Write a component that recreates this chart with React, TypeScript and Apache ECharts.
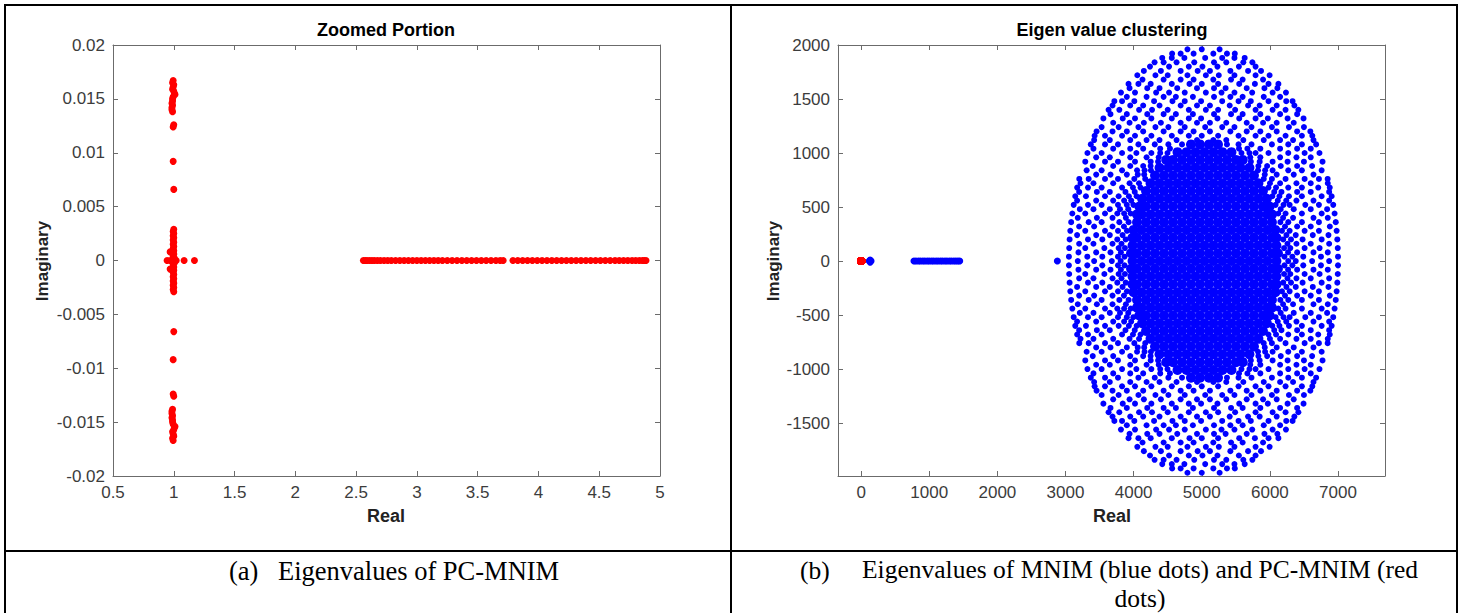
import React, { useEffect, useRef } from "react";
import * as echarts from "echarts";

// ---------- tick labels ----------
const leftXTicks = [0.5, 1, 1.5, 2, 2.5, 3, 3.5, 4, 4.5, 5];
const leftYTicks = [-0.02, -0.015, -0.01, -0.005, 0, 0.005, 0.01, 0.015, 0.02];
const rightXTicks = [0, 1000, 2000, 3000, 4000, 5000, 6000, 7000];
const rightYTicks = [-1500, -1000, -500, 0, 500, 1000, 1500, 2000];

// ---------- PC-MNIM eigenvalues (red) ----------
const pcNearOne: [number, number][] = [
  [0.995, 0.0167], [0.99, 0.0165], [1.0, 0.0163], [0.995, 0.0161], [0.99, 0.0159], [1.0, 0.0157], [1.005, 0.0155], [1.01, 0.0154],
  [0.995, 0.0152], [0.99, 0.015], [0.99, 0.0148], [0.985, 0.0146], [0.99, 0.0144], [0.985, 0.0142], [0.985, 0.014], [0.99, 0.0138],
  [1.0, 0.0126], [0.995, 0.0124], [0.995, 0.0092], [1.0, 0.0066],
  [1.0, 0.0029], [0.995, 0.0027], [1.0, 0.0025], [0.995, 0.0023], [1.0, 0.0021], [0.995, 0.0019], [1.0, 0.0017], [0.995, 0.0015],
  [1.0, 0.0013], [0.995, 0.0011], [1.0, 0.0009], [0.97, 0.0008], [1.0, 0.0006], [0.995, 0.0004], [1.005, 0.0002],
  [0.945, 0], [0.97, 0], [0.99, 0], [1.0, 0], [1.02, 0], [1.085, 0], [1.17, 0],
  [1.005, -0.0002], [0.995, -0.0004], [1.0, -0.0006], [0.97, -0.0008], [1.0, -0.0009], [0.995, -0.0011], [1.0, -0.0013], [0.995, -0.0015],
  [1.0, -0.0017], [0.995, -0.0019], [1.0, -0.0021], [0.995, -0.0023], [1.0, -0.0025], [0.995, -0.0027], [1.0, -0.0029],
  [1.0, -0.0066], [0.995, -0.0092], [0.995, -0.0124], [1.0, -0.0126],
  [0.99, -0.0138], [0.985, -0.014], [0.985, -0.0142], [0.99, -0.0144], [0.985, -0.0146], [0.99, -0.0148], [0.99, -0.015], [0.995, -0.0152],
  [1.01, -0.0154], [1.005, -0.0155], [1.0, -0.0157], [0.99, -0.0159], [0.995, -0.0161], [1.0, -0.0163], [0.99, -0.0165], [0.995, -0.0167],
];
const pcRealLow = [
  2.56, 2.575, 2.59, 2.61, 2.63, 2.65, 2.675, 2.7, 2.73, 2.76, 2.79, 2.825, 2.86, 2.895, 2.93, 2.965, 3.0, 3.035,
  3.07, 3.105, 3.14, 3.175, 3.21, 3.25, 3.29, 3.33, 3.37, 3.41, 3.45, 3.49, 3.53, 3.57, 3.61, 3.65, 3.685, 3.71,
];
const pcRealHigh = [
  3.79, 3.83, 3.87, 3.91, 3.95, 3.99, 4.03, 4.07, 4.11, 4.15, 4.19, 4.23, 4.27, 4.31, 4.35, 4.39, 4.43, 4.47,
  4.51, 4.55, 4.59, 4.63, 4.665, 4.7, 4.735, 4.77, 4.8, 4.83, 4.855, 4.87, 4.885,
];

// ---------- MNIM eigenvalues (blue) ----------
const mnimNearZero: [number, number][] = [[120, 0], [132, 10], [132, -10], [145, 0]];
const mnimRealCluster = [775, 805, 840, 870, 905, 935, 970, 1000, 1035, 1065, 1100, 1130, 1165, 1195, 1230, 1260, 1295, 1325, 1360, 1390, 1420, 1447];
const mnimIsolated: [number, number][] = [[2880, 0]];

// outer annulus, rows of [imag, real parts]
const mnimRingUpper: [number, number[]][] = [
  [1960, [4790, 5000, 5262]],
  [1920, [4565, 4690, 4880, 5170, 5370, 5485]],
  [1880, [4420, 4560, 4745, 5050, 5300, 5480, 5630]],
  [1840, [4307, 4440, 4630, 4890, 5180, 5360, 5610, 5743]],
  [1800, [4240, 4520, 4810, 5010, 5230, 5545, 5790]],
  [1760, [4150, 4400, 4690, 4940, 5120, 5420, 5680, 5870]],
  [1720, [4054, 4320, 4500, 4790, 5060, 5250, 5480, 5790, 5996]],
  [1680, [4130, 4440, 4690, 4880, 5170, 5430, 5600, 5900]],
  [1640, [3925, 4070, 4250, 4560, 4820, 5000, 5240, 5550, 5780, 5980, 6125]],
  [1600, [3940, 4200, 4380, 4640, 4930, 5180, 5350, 5660, 5920, 6110]],
  [1560, [3814, 4020, 4330, 4520, 4750, 5060, 5290, 5480, 5740, 6040, 6236]],
  [1520, [3900, 4190, 4440, 4620, 4870, 5180, 5420, 5600, 5910, 6150]],
  [1480, [3717, 3830, 4010, 4300, 4570, 4750, 4990, 5300, 5540, 5720, 5980, 6240, 6333]],
  [1440, [3690, 3950, 4140, 4380, 4690, 4930, 5120, 5410, 5680, 5850, 6100, 6360]],
  [1400, [3632, 3790, 4080, 4270, 4500, 4810, 5060, 5240, 5490, 5790, 6040, 6230, 6418]],
  [1360, [3660, 3900, 4200, 4440, 4620, 4870, 5180, 5430, 5600, 5860, 6150, 6400]],
  [1320, [3556, 3840, 4020, 4260, 4560, 4810, 4990, 5230, 5550, 5790, 5970, 6260, 6494]],
  [1280, [3700, 3940, 4150, 4400, 4690, 4930, 5120, 5360, 5660, 5900, 6100, 6350]],
  [1240, [3530, 3780, 4070, 4320, 4510, 4750, 5050, 5300, 5480, 5730, 6030, 6280, 6500]],
  [1200, [3456, 3690, 3900, 4140, 4440, 4690, 4880, 5120, 5420, 5660, 5860, 6100, 6400, 6594]],
  [1160, [3427, 3580, 3830, 4020, 4260, 4560, 4810, 5000, 5240, 5540, 5790, 5980, 6230, 6470, 6623]],
  [1120, [3420, 3650, 3950, 4190, 4380, 4630, 4930, 5170, 5360, 5610, 5910, 6150, 6340, 6640]],
  [1080, [3371, 3580, 3770, 4070, 4310, 4510, 4710, 5370, 5540, 5730, 6030, 6270, 6470, 6679]],
  [1040, [3410, 3700, 3950, 4140, 4390, 4533, 5547, 5670, 5860, 6150, 6400, 6600]],
  [1000, [3322, 3530, 3830, 4040, 4260, 4390, 4497, 5583, 5700, 5790, 5980, 6270, 6510, 6728]],
  [960, [3450, 3650, 3950, 4190, 4368, 5712, 5860, 6150, 6390, 6600]],
  [920, [3290, 3580, 3770, 4020, 4250, 4359, 5721, 5850, 6040, 6260, 6500, 6773]],
  [880, [3400, 3700, 3950, 4140, 4249, 5831, 5960, 6160, 6400, 6620]],
  [840, [3310, 3530, 3830, 4050, 4160, 4254, 5826, 5930, 6040, 6270, 6470, 6760]],
  [800, [3450, 3660, 3900, 4060, 4155, 5925, 6100, 6350, 6640]],
  [760, [3202, 3340, 3580, 3770, 4010, 4170, 5910, 6030, 6230, 6510, 6720, 6848]],
  [720, [3220, 3410, 3700, 3940, 4079, 6001, 6150, 6390, 6600, 6850]],
  [680, [3171, 3330, 3530, 3830, 3990, 4101, 5979, 6090, 6270, 6470, 6710, 6879]],
  [640, [3200, 3460, 3650, 3880, 4016, 6064, 6170, 6400, 6600, 6870]],
  [600, [3143, 3300, 3580, 3780, 3930, 4044, 6036, 6140, 6280, 6470, 6760, 6907]],
  [560, [3170, 3450, 3700, 3860, 3964, 6116, 6240, 6390, 6640, 6870]],
  [520, [3120, 3330, 3530, 3770, 3900, 3996, 6084, 6200, 6290, 6520, 6720, 6930]],
  [480, [3210, 3410, 3650, 3800, 3921, 6159, 6350, 6600, 6840]],
  [440, [3100, 3290, 3580, 3760, 3860, 3957, 6123, 6230, 6470, 6760, 6950]],
  [400, [3180, 3460, 3690, 3886, 6194, 6340, 6640, 6850]],
  [360, [3083, 3340, 3530, 3790, 3926, 6154, 6270, 6470, 6720, 6967]],
  [320, [3200, 3420, 3690, 3858, 6222, 6400, 6600, 6880]],
  [280, [3070, 3290, 3580, 3770, 3902, 6178, 6290, 6510, 6720, 6980]],
  [240, [3170, 3450, 3650, 3837, 6243, 6380, 6630, 6860]],
  [200, [3060, 3330, 3540, 3760, 3884, 6196, 6310, 6480, 6760, 6990]],
  [160, [3200, 3410, 3690, 3822, 6258, 6390, 6600, 6870]],
  [120, [3054, 3290, 3570, 3780, 3872, 6208, 6300, 6510, 6730, 6996]],
  [80, [3190, 3450, 3660, 3813, 6267, 6400, 6640, 6850]],
  [40, [3050, 3320, 3540, 3770, 3866, 6214, 6330, 6490, 6750, 7000]],
  [0, [3180, 3420, 3680, 3810, 6270, 6380, 6620, 6870]],
];
const mnimRingLower: [number, number[]][] = [
  [-40, [3050, 3320, 3540, 3770, 3866, 6214, 6330, 6490, 6750, 7000]],
  [-80, [3190, 3450, 3660, 3813, 6267, 6400, 6640, 6850]],
  [-120, [3054, 3290, 3570, 3780, 3872, 6208, 6300, 6510, 6730, 6996]],
  [-160, [3200, 3410, 3690, 3822, 6258, 6390, 6600, 6870]],
  [-200, [3060, 3330, 3540, 3760, 3884, 6196, 6310, 6480, 6760, 6990]],
  [-240, [3170, 3450, 3650, 3837, 6243, 6380, 6630, 6860]],
  [-280, [3070, 3290, 3580, 3770, 3902, 6178, 6290, 6510, 6720, 6980]],
  [-320, [3200, 3420, 3690, 3858, 6222, 6400, 6600, 6880]],
  [-360, [3083, 3340, 3530, 3790, 3926, 6154, 6270, 6470, 6720, 6967]],
  [-400, [3180, 3460, 3690, 3886, 6194, 6340, 6640, 6850]],
  [-440, [3100, 3290, 3580, 3760, 3860, 3957, 6123, 6230, 6470, 6760, 6950]],
  [-480, [3210, 3410, 3650, 3800, 3921, 6159, 6350, 6600, 6840]],
  [-520, [3120, 3330, 3530, 3770, 3900, 3996, 6084, 6200, 6290, 6520, 6720, 6930]],
  [-560, [3170, 3450, 3700, 3860, 3964, 6116, 6240, 6390, 6640, 6870]],
  [-600, [3143, 3300, 3580, 3780, 3930, 4044, 6036, 6140, 6280, 6470, 6760, 6907]],
  [-640, [3200, 3460, 3650, 3880, 4016, 6064, 6170, 6400, 6600, 6870]],
  [-680, [3171, 3330, 3530, 3830, 3990, 4101, 5979, 6090, 6270, 6470, 6710, 6879]],
  [-720, [3220, 3410, 3700, 3940, 4079, 6001, 6150, 6390, 6600, 6850]],
  [-760, [3202, 3340, 3580, 3770, 4010, 4170, 5910, 6030, 6230, 6510, 6720, 6848]],
  [-800, [3450, 3660, 3900, 4060, 4155, 5925, 6100, 6350, 6640]],
  [-840, [3310, 3530, 3830, 4050, 4160, 4254, 5826, 5930, 6040, 6270, 6470, 6760]],
  [-880, [3400, 3700, 3950, 4140, 4249, 5831, 5960, 6160, 6400, 6620]],
  [-920, [3290, 3580, 3770, 4020, 4250, 4359, 5721, 5850, 6040, 6260, 6500, 6773]],
  [-960, [3450, 3650, 3950, 4190, 4368, 5712, 5860, 6150, 6390, 6600]],
  [-1000, [3322, 3530, 3830, 4040, 4260, 4390, 4497, 5583, 5700, 5790, 5980, 6270, 6510, 6728]],
  [-1040, [3410, 3700, 3950, 4140, 4390, 4533, 5547, 5670, 5860, 6150, 6400, 6600]],
  [-1080, [3371, 3580, 3770, 4070, 4310, 4510, 4710, 5370, 5540, 5730, 6030, 6270, 6470, 6679]],
  [-1120, [3420, 3650, 3950, 4190, 4380, 4630, 4930, 5170, 5360, 5610, 5910, 6150, 6340, 6640]],
  [-1160, [3427, 3580, 3830, 4020, 4260, 4560, 4810, 5000, 5240, 5540, 5790, 5980, 6230, 6470, 6623]],
  [-1200, [3456, 3690, 3900, 4140, 4440, 4690, 4880, 5120, 5420, 5660, 5860, 6100, 6400, 6594]],
  [-1240, [3530, 3780, 4070, 4320, 4510, 4750, 5050, 5300, 5480, 5730, 6030, 6280, 6500]],
  [-1280, [3700, 3940, 4150, 4400, 4690, 4930, 5120, 5360, 5660, 5900, 6100, 6350]],
  [-1320, [3556, 3840, 4020, 4260, 4560, 4810, 4990, 5230, 5550, 5790, 5970, 6260, 6494]],
  [-1360, [3660, 3900, 4200, 4440, 4620, 4870, 5180, 5430, 5600, 5860, 6150, 6400]],
  [-1400, [3632, 3790, 4080, 4270, 4500, 4810, 5060, 5240, 5490, 5790, 6040, 6230, 6418]],
  [-1440, [3690, 3950, 4140, 4380, 4690, 4930, 5120, 5410, 5680, 5850, 6100, 6360]],
  [-1480, [3717, 3830, 4010, 4300, 4570, 4750, 4990, 5300, 5540, 5720, 5980, 6240, 6333]],
  [-1520, [3900, 4190, 4440, 4620, 4870, 5180, 5420, 5600, 5910, 6150]],
  [-1560, [3814, 4020, 4330, 4520, 4750, 5060, 5290, 5480, 5740, 6040, 6236]],
  [-1600, [3940, 4200, 4380, 4640, 4930, 5180, 5350, 5660, 5920, 6110]],
  [-1640, [3925, 4070, 4250, 4560, 4820, 5000, 5240, 5550, 5780, 5980, 6125]],
  [-1680, [4130, 4440, 4690, 4880, 5170, 5430, 5600, 5900]],
  [-1720, [4054, 4320, 4500, 4790, 5060, 5250, 5480, 5790, 5996]],
  [-1760, [4150, 4400, 4690, 4940, 5120, 5420, 5680, 5870]],
  [-1800, [4240, 4520, 4810, 5010, 5230, 5545, 5790]],
  [-1840, [4307, 4440, 4630, 4890, 5180, 5360, 5610, 5743]],
  [-1880, [4420, 4560, 4745, 5050, 5300, 5480, 5630]],
  [-1920, [4565, 4690, 4880, 5170, 5370, 5485]],
  [-1960, [4790, 5000, 5262]],
];

// dense core, rows of [imag, real parts]
const mnimCoreRows: [number, number[]][] = [
  [1080, [4842, 4974, 5106, 5238]],
  [1008, [4644, 4776, 4908, 5040, 5172, 5304, 5436]],
  [936, [4478, 4578, 4710, 4842, 4974, 5106, 5238, 5370, 5502, 5602]],
  [864, [4380, 4512, 4644, 4776, 4908, 5040, 5172, 5304, 5436, 5568, 5700]],
  [792, [4314, 4446, 4578, 4710, 4842, 4974, 5106, 5238, 5370, 5502, 5634, 5766]],
  [720, [4248, 4380, 4512, 4644, 4776, 4908, 5040, 5172, 5304, 5436, 5568, 5700, 5832]],
  [648, [4182, 4314, 4446, 4578, 4710, 4842, 4974, 5106, 5238, 5370, 5502, 5634, 5766, 5898]],
  [576, [4124, 4248, 4380, 4512, 4644, 4776, 4908, 5040, 5172, 5304, 5436, 5568, 5700, 5832, 5956]],
  [504, [4083, 4182, 4314, 4446, 4578, 4710, 4842, 4974, 5106, 5238, 5370, 5502, 5634, 5766, 5898, 5997]],
  [432, [4049, 4116, 4248, 4380, 4512, 4644, 4776, 4908, 5040, 5172, 5304, 5436, 5568, 5700, 5832, 5964, 6031]],
  [360, [4050, 4182, 4314, 4446, 4578, 4710, 4842, 4974, 5106, 5238, 5370, 5502, 5634, 5766, 5898, 6030]],
  [288, [3999, 4116, 4248, 4380, 4512, 4644, 4776, 4908, 5040, 5172, 5304, 5436, 5568, 5700, 5832, 5964, 6081]],
  [216, [3982, 4050, 4182, 4314, 4446, 4578, 4710, 4842, 4974, 5106, 5238, 5370, 5502, 5634, 5766, 5898, 6030, 6098]],
  [144, [3984, 4116, 4248, 4380, 4512, 4644, 4776, 4908, 5040, 5172, 5304, 5436, 5568, 5700, 5832, 5964, 6096]],
  [72, [3962, 4050, 4182, 4314, 4446, 4578, 4710, 4842, 4974, 5106, 5238, 5370, 5502, 5634, 5766, 5898, 6030, 6118]],
  [0, [3984, 4116, 4248, 4380, 4512, 4644, 4776, 4908, 5040, 5172, 5304, 5436, 5568, 5700, 5832, 5964, 6096]],
  [-72, [3962, 4050, 4182, 4314, 4446, 4578, 4710, 4842, 4974, 5106, 5238, 5370, 5502, 5634, 5766, 5898, 6030, 6118]],
  [-144, [3984, 4116, 4248, 4380, 4512, 4644, 4776, 4908, 5040, 5172, 5304, 5436, 5568, 5700, 5832, 5964, 6096]],
  [-216, [3982, 4050, 4182, 4314, 4446, 4578, 4710, 4842, 4974, 5106, 5238, 5370, 5502, 5634, 5766, 5898, 6030, 6098]],
  [-288, [3999, 4116, 4248, 4380, 4512, 4644, 4776, 4908, 5040, 5172, 5304, 5436, 5568, 5700, 5832, 5964, 6081]],
  [-360, [4050, 4182, 4314, 4446, 4578, 4710, 4842, 4974, 5106, 5238, 5370, 5502, 5634, 5766, 5898, 6030]],
  [-432, [4049, 4116, 4248, 4380, 4512, 4644, 4776, 4908, 5040, 5172, 5304, 5436, 5568, 5700, 5832, 5964, 6031]],
  [-504, [4083, 4182, 4314, 4446, 4578, 4710, 4842, 4974, 5106, 5238, 5370, 5502, 5634, 5766, 5898, 5997]],
  [-576, [4124, 4248, 4380, 4512, 4644, 4776, 4908, 5040, 5172, 5304, 5436, 5568, 5700, 5832, 5956]],
  [-648, [4182, 4314, 4446, 4578, 4710, 4842, 4974, 5106, 5238, 5370, 5502, 5634, 5766, 5898]],
  [-720, [4248, 4380, 4512, 4644, 4776, 4908, 5040, 5172, 5304, 5436, 5568, 5700, 5832]],
  [-792, [4314, 4446, 4578, 4710, 4842, 4974, 5106, 5238, 5370, 5502, 5634, 5766]],
  [-864, [4380, 4512, 4644, 4776, 4908, 5040, 5172, 5304, 5436, 5568, 5700]],
  [-936, [4478, 4578, 4710, 4842, 4974, 5106, 5238, 5370, 5502, 5602]],
  [-1008, [4644, 4776, 4908, 5040, 5172, 5304, 5436]],
  [-1080, [4842, 4974, 5106, 5238]],
];

// ---------- build data ----------
const rowsToPoints = (rows: [number, number[]][]) =>
  rows.flatMap(([im, reals]) => reals.map((re) => [re, im]));

const pcPoints = [
  ...pcNearOne,
  ...pcRealLow.map((re) => [re, 0]),
  ...pcRealHigh.map((re) => [re, 0]),
];
const mnimRingPoints = [...rowsToPoints(mnimRingUpper), ...rowsToPoints(mnimRingLower)];
const mnimCorePoints = rowsToPoints(mnimCoreRows);
const mnimRealPoints = [
  ...mnimNearZero,
  ...mnimRealCluster.map((re) => [re, 0]),
  ...mnimIsolated,
];

const SANS = '"Liberation Sans", Arial, Helvetica, sans-serif';
const SERIF = '"Liberation Serif", "Times New Roman", serif';
const AXIS_COLOR = "#6b6b6b";

function makeAxis(
  gridIndex: number,
  position: string,
  min: number,
  max: number,
  ticks: number[],
  showLabels: boolean,
  formatter?: (v: number) => string
) {
  return {
    type: "value",
    gridIndex,
    position,
    min,
    max,
    axisLine: { show: true, onZero: false, lineStyle: { color: AXIS_COLOR, width: 1 } },
    axisTick: {
      show: true,
      inside: true,
      length: 5,
      customValues: ticks,
      lineStyle: { color: AXIS_COLOR, width: 1 },
    },
    axisLabel: {
      show: showLabels,
      customValues: ticks,
      formatter,
      color: "#3c3c3c",
      fontSize: 17,
      fontFamily: SANS,
      margin: 8,
    },
    splitLine: { show: false },
  };
}

const fmtLX = (v: number) => String(Number(v.toFixed(2)));
const fmtLY = (v: number) => String(Number(v.toFixed(3)));
const fmtR = (v: number) => String(Math.round(v));

function text(x: number, y: number, str: string, extra: any = {}) {
  return {
    type: "text",
    x,
    y,
    silent: true,
    ...extra,
    style: {
      text: str,
      fill: "#000",
      fontFamily: SANS,
      fontSize: 18,
      fontWeight: "bold",
      align: "center",
      verticalAlign: "middle",
      ...(extra.style || {}),
    },
  };
}

function hline(x1: number, x2: number, y: number) {
  return { type: "line", silent: true, shape: { x1, y1: y, x2, y2: y }, style: { stroke: "#000", lineWidth: 2 } };
}
function vline(x: number, y1: number, y2: number) {
  return { type: "line", silent: true, shape: { x1: x, y1, x2: x, y2 }, style: { stroke: "#000", lineWidth: 2 } };
}

const captionStyle = { fontFamily: SERIF, fontSize: 26.5, fontWeight: "normal", align: "left" };
const captionStyleB = { fontFamily: SERIF, fontSize: 25.5, fontWeight: "normal", align: "left" };

const option = {
  animation: false,
  backgroundColor: "#ffffff",
  grid: [
    { left: 113, top: 45, width: 547, height: 431 },
    { left: 838, top: 45, width: 547, height: 431 },
  ],
  xAxis: [
    makeAxis(0, "bottom", 0.5, 5, leftXTicks, true, fmtLX),
    makeAxis(0, "top", 0.5, 5, leftXTicks, false),
    makeAxis(1, "bottom", -340, 7690, rightXTicks, true, fmtR),
    makeAxis(1, "top", -340, 7690, rightXTicks, false),
  ],
  yAxis: [
    makeAxis(0, "left", -0.02, 0.02, leftYTicks, true, fmtLY),
    makeAxis(0, "right", -0.02, 0.02, leftYTicks, false),
    makeAxis(1, "left", -1990, 2000, rightYTicks, true, fmtR),
    makeAxis(1, "right", -1990, 2000, rightYTicks, false),
  ],
  series: [
    {
      type: "scatter",
      xAxisIndex: 0,
      yAxisIndex: 0,
      data: pcPoints,
      symbolSize: 7,
      itemStyle: { color: "#ff0000", opacity: 1 },
      silent: true,
    },
    {
      type: "scatter",
      xAxisIndex: 2,
      yAxisIndex: 2,
      data: mnimCorePoints,
      symbolSize: 10,
      itemStyle: { color: "#0000ff", opacity: 1 },
      silent: true,
    },
    {
      type: "scatter",
      xAxisIndex: 2,
      yAxisIndex: 2,
      data: mnimRingPoints,
      symbolSize: 6,
      itemStyle: { color: "#0000ff", opacity: 1 },
      silent: true,
    },
    {
      type: "scatter",
      xAxisIndex: 2,
      yAxisIndex: 2,
      data: mnimRealPoints,
      symbolSize: 7,
      itemStyle: { color: "#0000ff", opacity: 1 },
      silent: true,
    },
    {
      type: "scatter",
      xAxisIndex: 2,
      yAxisIndex: 2,
      data: pcPoints,
      symbolSize: 8,
      itemStyle: { color: "#ff0000", opacity: 1 },
      silent: true,
    },
  ],
  graphic: [
    // table borders
    hline(4, 1458, 5),
    hline(4, 1458, 551),
    vline(5, 4, 613),
    vline(731, 4, 613),
    vline(1457, 4, 613),
    // titles and axis names
    text(386, 30, "Zoomed Portion"),
    text(1112, 30, "Eigen value clustering"),
    text(386, 516, "Real", { style: { fill: "#222" } }),
    text(1112, 516, "Real", { style: { fill: "#222" } }),
    text(42, 261, "Imaginary", { rotation: Math.PI / 2, style: { fill: "#222", fontSize: 17 } }),
    text(773, 261, "Imaginary", { rotation: Math.PI / 2, style: { fill: "#222", fontSize: 17 } }),
    // captions
    text(229, 571, "(a)", { style: captionStyle }),
    text(278, 571, "Eigenvalues of PC-MNIM", { style: captionStyle }),
    text(800, 570, "(b)", { style: captionStyleB }),
    text(1140, 584, "Eigenvalues of MNIM (blue dots) and PC-MNIM (red\ndots)", {
      style: { ...captionStyleB, align: "center", lineHeight: 28.5 },
    }),
  ],
};

export default function App() {
  const ref = useRef<HTMLDivElement>(null);
  useEffect(() => {
    if (!ref.current) return;
    const chart = echarts.init(ref.current, null, { renderer: "svg" });
    chart.setOption(option as any);
    return () => chart.dispose();
  }, []);
  return (
    <div
      ref={ref}
      style={{ position: "absolute", left: 0, top: 0, width: 1466, height: 613, background: "#fff" }}
    />
  );
}
